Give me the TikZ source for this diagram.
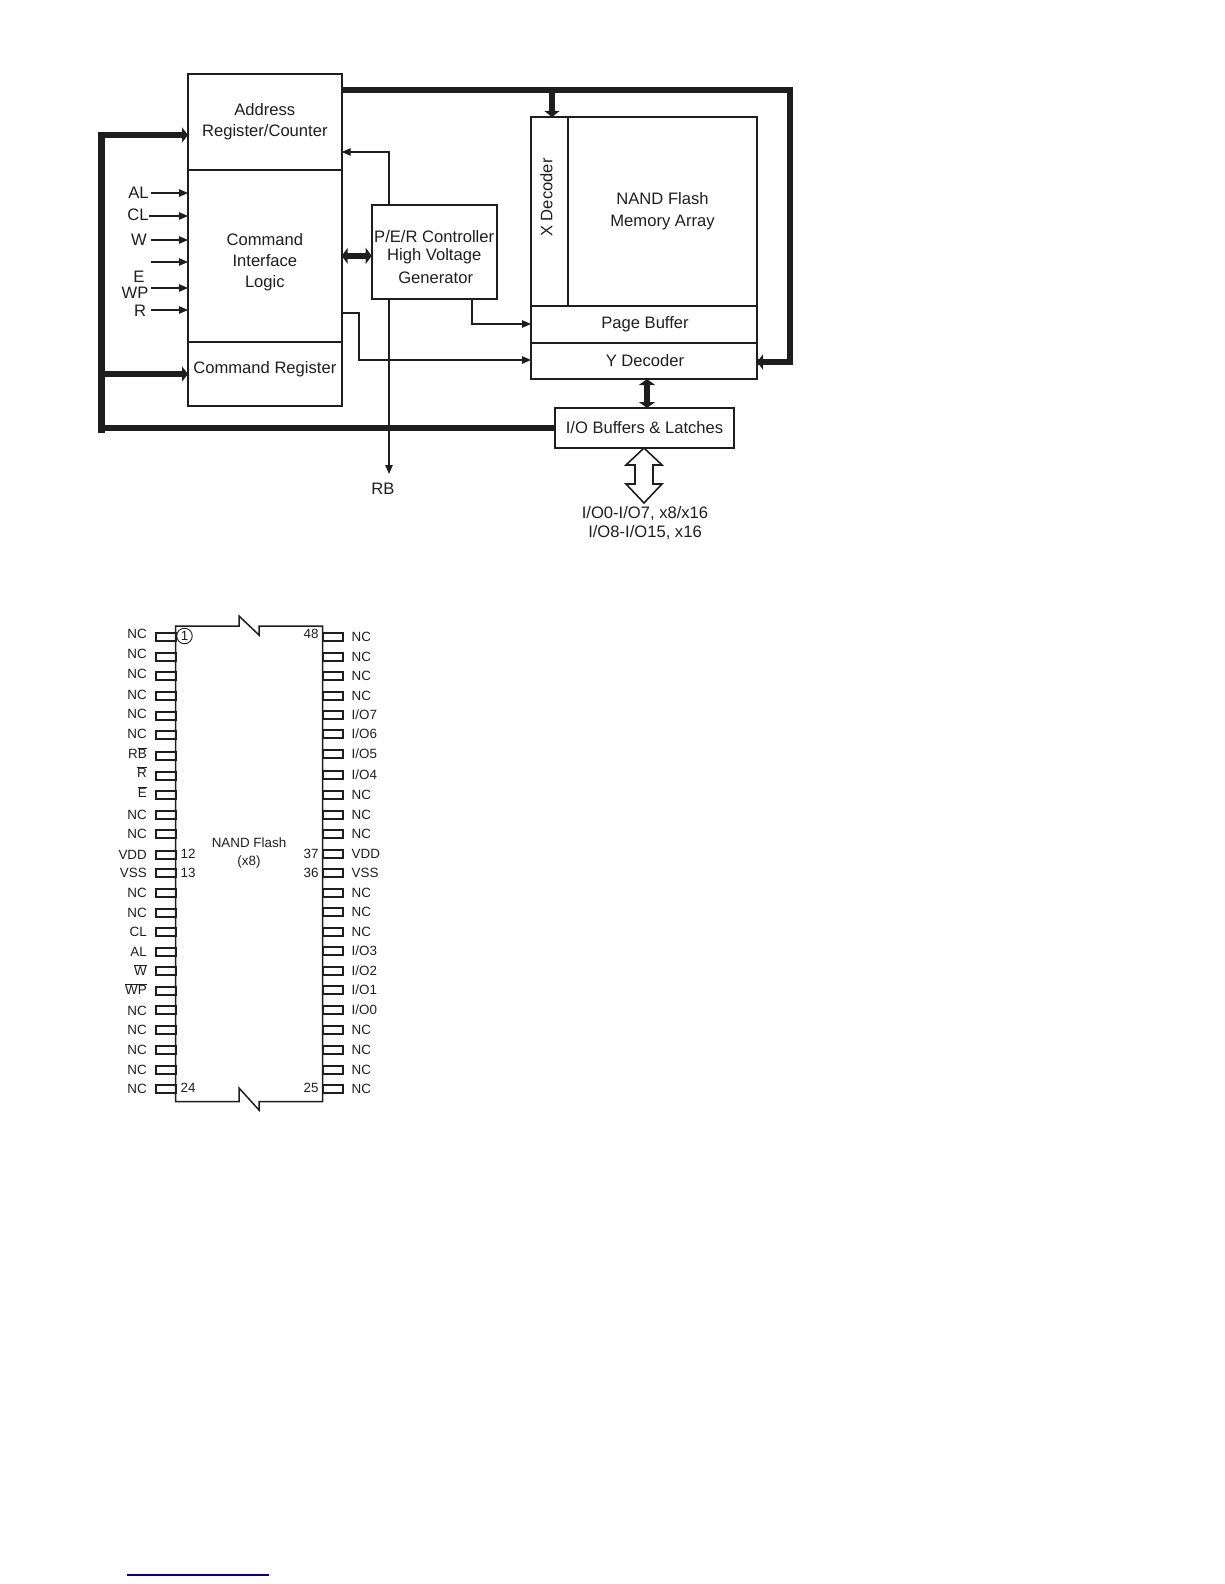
\documentclass[tikz,border=0pt]{standalone}
\usepackage{fontspec}
\setmainfont{Liberation Sans}
\usetikzlibrary{arrows.meta}
\definecolor{ink}{HTML}{1E1E1E}
\newcommand\ovl[1]{\ensuremath{\overline{\mbox{#1}}}}
\newcommand\bigf{\fontsize{16.6}{20.7}\selectfont}
\newcommand\smallf{\fontsize{13.4}{15}\selectfont}
\newsavebox\shiftbox
\newcommand\vshift[2]{\sbox\shiftbox{#2}\raisebox{#1}[\ht\shiftbox][\dp\shiftbox]{\usebox\shiftbox}}
\newcommand\blk[6]{%
  \pgfmathsetmacro\bw{#4-#2}\pgfmathsetmacro\bh{#5-#3}%
  \pgfmathsetmacro\bx{(#4+#2)/2}\pgfmathsetmacro\by{(#5+#3)/2}%
  \node[blockbox,minimum width=\bw pt,minimum height=\bh pt] (#1) at (\bx,\by) {#6};}
\tikzset{
  blockbox/.style={draw=ink,line width=2.4pt,inner sep=0pt,outer sep=0pt,align=center,text=ink,font=\bigf},
  biglabel/.style={inner sep=0pt,text=ink,font=\bigf,align=center},
  smalllabel/.style={inner sep=0pt,text=ink,font=\smallf,align=center},
  pinbox/.style={draw=ink,line width=1.6pt,minimum width=20pt,minimum height=8pt,inner sep=0pt,outer sep=0pt},
  thinarrow/.style={draw=ink,line width=1.1pt,-{Triangle[length=9pt,width=7.5pt]}},
  bus/.style={draw=ink,line width=6.5pt},
  busarrow/.style={draw=ink,line width=5.5pt,-{Triangle[length=6pt,width=15pt]}},
  busdouble/.style={draw=ink,line width=6.5pt,{Triangle[length=6pt,width=16pt]}-{Triangle[length=6pt,width=16pt]}},
}
\begin{document}
\begin{tikzpicture}[x=1pt,y=-1pt]
\useasboundingbox (0,0) rectangle (1224,1584);
% --- block diagram
\blk{addr}{188}{74}{341.7}{170}{\begin{tabular}{@{}c@{}}Address\\Register/Counter\end{tabular}}
\blk{cmd}{188}{170}{341.7}{341.7}{\vshift{-6.5pt}{\begin{tabular}{@{}c@{}}Command\\Interface\\Logic\end{tabular}}}
\blk{creg}{188}{341.7}{341.7}{406}{\vshift{4.5pt}{Command Register}}
\blk{per}{371.7}{205}{496.7}{299}{\vshift{-6.5pt}{\begin{tabular}{@{}c@{}}P/E/R Controller\\[-2pt]High Voltage\\[1.5pt]\hspace{3pt}Generator\end{tabular}}}
\blk{xdec}{531}{117}{568}{306}{\hspace{-6pt}\rotatebox{90}{\hspace{28pt}X Decoder}}
\blk{array}{568}{117}{757}{306}{\begin{tabular}{@{}c@{}}NAND Flash\\[1pt]Memory Array\end{tabular}}
\blk{page}{531}{306}{757}{343}{\hspace{2pt}Page Buffer}
\blk{ydec}{531}{343}{757}{379}{\hspace{2pt}Y Decoder}
\blk{iobuf}{555}{408}{734}{448}{I/O Buffers \& Latches}
% signal labels
\node[biglabel] (lAL) at (138.5,193) {AL};
\node[biglabel] (lCL) at (138,215) {CL};
\node[biglabel] (lW) at (139,240) {W};
\node[biglabel] (lE) at (139,277) {E};
\node[biglabel] (lWP) at (135,293) {WP};
\node[biglabel] (lR) at (140,311) {R};
\coordinate (sAL) at (151,193);
\coordinate (sCL) at (149,216);
\coordinate (sW) at (151,240);
\coordinate (sE) at (151,262);
\coordinate (sWP) at (151,288);
\coordinate (sR) at (151,310);
\foreach \s in {sAL,sCL,sW,sE,sWP,sR}
  \draw[thinarrow] (\s) -- (cmd.west |- \s);
% buses
\coordinate (busT) at (101,132);
\coordinate (busB) at (101,433);
\coordinate (busA) at (98,135);
\coordinate (busC) at (101,374);
\coordinate (topR) at (790,90);
\coordinate (yin) at (790,362);
\coordinate (xin) at (552,90);
\coordinate (yio) at (647,379);
\draw[bus,line width=7pt] (busT) -- (busB);
\draw[busarrow] (busA) -- (addr.west |- busA);
\draw[busarrow] (busC) -- (creg.west |- busC);
\draw[bus] (iobuf.west) -- (busB |- iobuf.west);
\draw[bus,line join=miter] (addr.east |- topR) -- (topR) -- (yin) -- (ydec.east |- yin) ;
\draw[busarrow] (yin) -- (ydec.east |- yin);
\draw[busarrow] (xin) -- (xdec.north -| xin);
\draw[busdouble] (cmd.east) -- (per.west |- cmd.east);
\draw[busdouble] (yio) -- (iobuf.north -| yio);
% thin connectors
\coordinate (rbx) at (389,152);
\coordinate (rbend) at (389,474);
\coordinate (perout) at (472,324);
\coordinate (cmdout) at (341.7,313);
\coordinate (cmdturn) at (359,360);
\node[biglabel] (lRB) at (383,489) {RB};
\draw[thinarrow] (per.north -| rbx) -- (rbx) -- (addr.east |- rbx);
\draw[thinarrow] (per.south -| rbend) -- (rbend);
\draw[thinarrow] (per.south -| perout) -- (perout) -- (page.west |- perout);
\draw[thinarrow] (cmdout) -| (cmdturn) -- (ydec.west |- cmdturn);
% hollow double arrow
\draw[draw=ink,line width=1.6pt,fill=white,line join=miter] (iobuf.south -| 644,0) -- ++(18,17) -- ++(-9,0) -- ++(0,19) -- ++(9,0) -- ++(-18,19) -- ++(-18,-19) -- ++(9,0) -- ++(0,-19) -- ++(-9,0) -- cycle;
\node[biglabel] (lio) at (645,523) {I/O0-I/O7, x8/x16\\[-1.8pt]I/O8-I/O15, x16};
% --- pinout
\draw[draw=ink,line width=1.5pt,line join=miter] (175.7,626) -- (239,626) -- (239,616) -- (259,635) -- (259,626) -- (322.7,626) -- (322.7,1101.7) -- (259,1101.7) -- (259,1110) -- (239,1088) -- (239,1101.7) -- (175.7,1101.7) -- cycle;
\foreach \y/\ly/\t [count=\i] in {637/634/NC,657/654/NC,676/674/NC,696/695/NC,716/714/NC,735/734/NC,756/754/R\ovl{B},776/773/\ovl{R},795/793/\ovl{E},815/815/NC,834/834/NC,855/855/VDD,873/873/VSS,893/893/NC,913/913/NC,932/932/CL,952/952/AL,971/971/\ovl{W},991/990/\ovl{WP},1010/1011/NC,1030/1030/NC,1050/1050/NC,1070/1070/NC,1089/1089/NC}{
  \node[pinbox] (pinL\i) at (165.7,\y) {};
  \node[smalllabel,anchor=base east] (lblL\i) at (147,\ly+4.6) {\t};
}
\foreach \y/\t [count=\i] in {637/NC,657/NC,676/NC,696/NC,715/I\slash O7,734/I\slash O6,754/I\slash O5,775/I\slash O4,795/NC,815/NC,834/NC,854/VDD,873/VSS,893/NC,912/NC,932/NC,951/I\slash O3,971/I\slash O2,990/I\slash O1,1010/I\slash O0,1030/NC,1050/NC,1070/NC,1089/NC}{
  \node[pinbox] (pinR\i) at (332.85,\y) {};
  \node[smalllabel,anchor=base west] (lblR\i) at (351.5,\y+4.6) {\t};
}
\node[draw=ink,line width=0.9pt,circle,minimum size=15.5pt,inner sep=0pt,text=ink,font=\smallf] (n1) at (184.5,636) {1};
\node[smalllabel] (n48) at (311,634) {48};
\node[smalllabel] (n12) at (188,854) {12};
\node[smalllabel] (n13) at (188,873) {13};
\node[smalllabel] (n37) at (311,854) {37};
\node[smalllabel] (n36) at (311,873) {36};
\node[smalllabel] (n24) at (188,1088) {24};
\node[smalllabel] (n25) at (311,1088) {25};
\node[smalllabel] (title) at (249,853) {NAND Flash\\[2.5pt](x8)};
% --- rule at foot of page
\coordinate (ruleA) at (127,1575);
\coordinate (ruleB) at (269,1575);
\draw[draw=blue!55!black,line width=1.1pt] (ruleA) -- (ruleB);
\end{tikzpicture}
\end{document}
